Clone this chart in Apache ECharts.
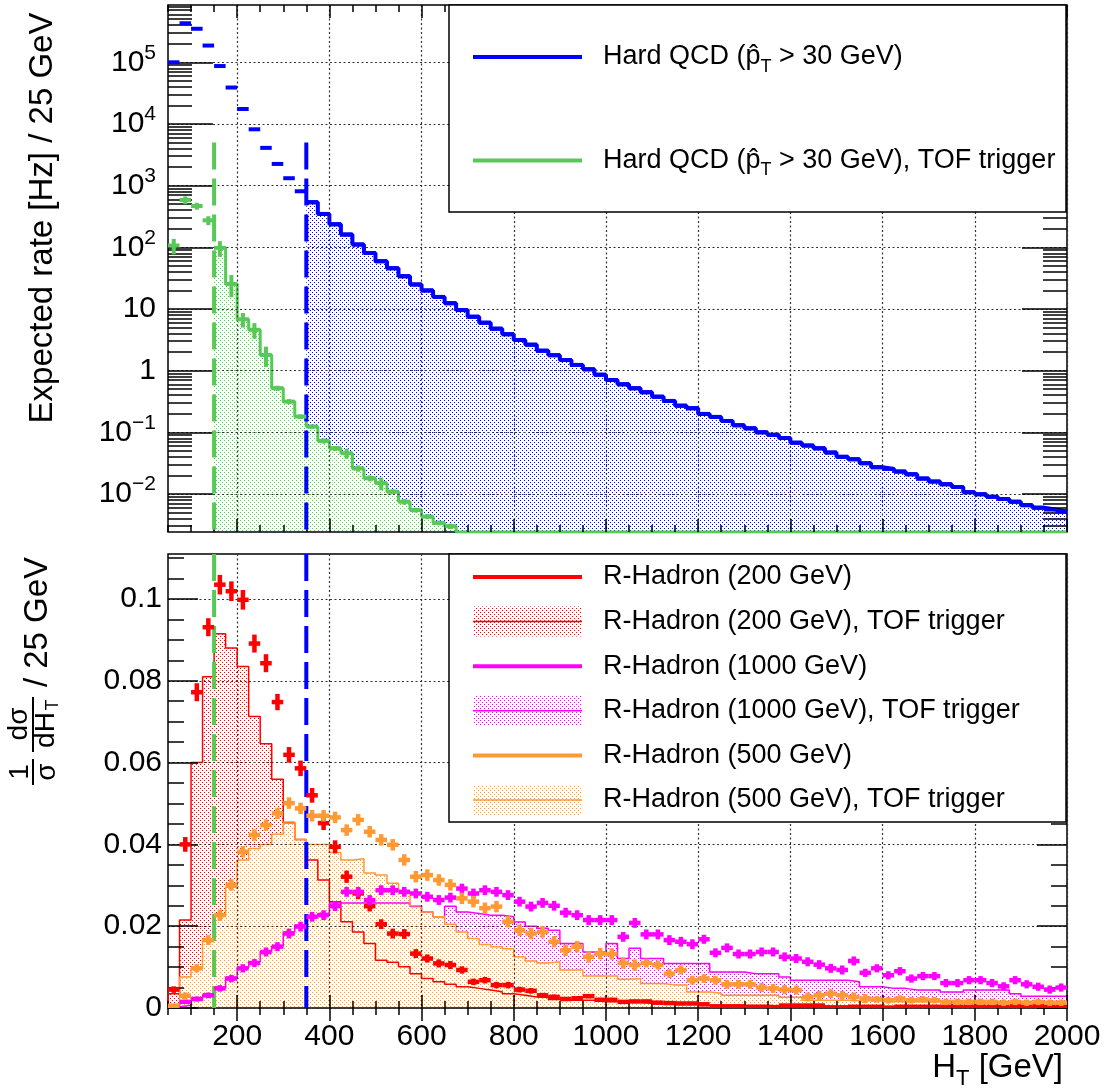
<!DOCTYPE html>
<html><head><meta charset="utf-8">
<script src="https://cdn.jsdelivr.net/npm/echarts@6/dist/echarts.min.js"></script>
<style>html,body{margin:0;padding:0;background:#fff}#c{width:1112px;height:1092px}</style>
</head><body><div id="c"></div><script>
// ---------------- DATA ----------------
const binEdges = [50,75,100,125,150,175,200,225,250,275,300,325,350,375,400,425,450,475,500,525,550,575,600,625,650,675,700,725,750,775,800,825,850,875,900,925,950,975,1000,1025,1050,1075,1100,1125,1150,1175,1200,1225,1250,1275,1300,1325,1350,1375,1400,1425,1450,1475,1500,1525,1550,1575,1600,1625,1650,1675,1700,1725,1750,1775,1800,1825,1850,1875,1900,1925,1950,1975,2000];

// Top panel: expected rate [Hz] per 25 GeV bin
const qcdRate = [1.0e5,4.3e5,3.5e5,1.87e5,8.7e4,3.9e4,1.75e4,8.2e3,4.1e3,2.25e3,
 1.32e3,811,538,348,236,161,111,81,59.5,45.8,
 34,25,20,15.7,12.4,9.6,7.5,6.0,4.8,3.9,
 3.15,2.64,2.11,1.78,1.49,1.24,1.05,0.86,0.706,0.60,
 0.518,0.447,0.379,0.323,0.271,0.246,0.199,0.178,0.153,0.130,
 0.116,0.100,0.091,0.081,0.068,0.061,0.055,0.047,0.040,0.0366,
 0.0316,0.0272,0.0255,0.0231,0.0209,0.0178,0.0159,0.0144,0.0130,0.0107,
 0.0099,0.0090,0.0083,0.0075,0.0066,0.0060,0.0056,0.0052];
const qcdTofRate = [107,586,468,274,98,25.5,6.8,4.6,1.8,0.52,
 0.315,0.18,0.124,0.0726,0.055,0.0458,0.026,0.018,0.015,0.0109,
 0.0075,0.0055,0.0043,0.0034,0.003,0,0,0,0,0,
 0,0,0,0,0,0,0,0,0,0, 0,0,0,0,0,0,0,0,0,0, 0,0,0,0,0,0,0,0,0,0,
 0,0,0,0,0,0,0,0,0,0, 0,0,0,0,0,0,0,0];
const qcdTofErr = [30,85,60,45,28,10,1.8,1.3,0.65,0.05,
 0.03,0.015,0.01,0.007,0.005,0.0085,0.003,0.002,0.0035,0.001,
 0.0008,0.0005,0.0004,0.0003,0.0003,0,0,0,0,0,
 0,0,0,0,0,0,0,0,0,0, 0,0,0,0,0,0,0,0,0,0, 0,0,0,0,0,0,0,0,0,0,
 0,0,0,0,0,0,0,0,0,0, 0,0,0,0,0,0,0,0];

// Bottom panel: normalised distributions
const rh200 = [0.0045,0.040,0.0772,0.0931,0.1035,0.1019,0.0998,0.0891,0.0843,0.0748,
 0.0619,0.0586,0.052,0.0452,0.0394,0.0321,0.028,0.0249,0.0205,0.0182,
 0.0181,0.0133,0.0121,0.0109,0.0105,0.0093,0.0064,0.0068,0.0056,0.0056,
 0.0045,0.0042,0.0031,0.0027,0.0022,0.0024,0.0029,0.0020,0.0020,0.0015,
 0.0016,0.0016,0.0013,0.0012,0.0011,0.0011,0.0009,0.0004,0.0004,0.0004,
 0.0002,0.0002,0.0002,0.0006,0.0006,0.0006,0.0006,0.0001,0.0001,0.0003,
 0.0003,0.0003,0.0001,0.0003,0.0003,0.0003,0.0003,0.0003,0.0003,0.0003,
 0.0003,0.0003,0.0002,0.0004,0.0004,0.0004,0.0004,0.0004];
const rh200Err = [0.0008,0.0018,0.0022,0.0022,0.0024,0.0024,0.0024,0.0022,0.0022,0.002,
 0.0019,0.0019,0.0018,0.0017,0.0016,0.0015,0.0014,0.0013,0.0012,0.0012,
 0.0012,0.0011,0.001,0.001,0.001,0.0009,0.0008,0.0008,0.0008,0.0008,
 0.0007,0.0007,0.0006,0.0006,0.0005,0.0005,0.0005,0.0005,0.0005,0.0004,
 0.0004,0.0004,0.0004,0.0004,0.0003,0.0003,0.0003,0.0002,0.0002,0.0002,
 0.0002,0.0002,0.0002,0.0002,0.0002,0.0002,0.0002,0.0002,0.0002,0.0002,
 0.0002,0.0002,0.0002,0.0002,0.0002,0.0002,0.0002,0.0002,0.0002,0.0002,
 0.0002,0.0002,0.0002,0.0002,0.0002,0.0002,0.0002,0.0002];
const rh200Tof = [0.0035,0.0215,0.060,0.081,0.0915,0.088,0.0835,0.0713,0.0646,0.0559,
 0.0453,0.0412,0.0362,0.0313,0.026,0.0211,0.0186,0.0158,0.0117,0.0112,
 0.0101,0.0084,0.0072,0.0064,0.0058,0.0052,0.0048,0.0044,0.0040,0.0035,
 0.0031,0.0027,0.0026,0.0021,0.0019,0.0019,0.0019,0.0015,0.0015,0.0015,
 0.0015,0.0011,0.0011,0.0011,0.0011,0.0011,0.0007,0.0007,0.0007,0.0007,
 0.0007,0.0007,0.0005,0.0005,0.0005,0.0005,0.0005,0.0005,0.0005,0.0005,
 0.0003,0.0003,0.0003,0.0003,0.0003,0.0003,0.0003,0.0003,0.0003,0.0003,
 0.0003,0.0003,0.0003,0.0003,0.0003,0.0003,0.0003,0.0003];
const rh1000 = [0.0005,0.0015,0.0022,0.0031,0.0048,0.0072,0.0097,0.011,0.0137,0.015,
 0.0182,0.0199,0.0223,0.0227,0.0249,0.0284,0.0284,0.0264,0.0288,0.0288,
 0.0284,0.028,0.0272,0.0264,0.027,0.0292,0.028,0.0288,0.0284,0.0276,
 0.026,0.0248,0.0257,0.025,0.0233,0.0227,0.0215,0.0215,0.0215,0.0174,
 0.0208,0.018,0.018,0.0166,0.0162,0.0156,0.0168,0.0135,0.0147,0.0132,
 0.0132,0.0137,0.0137,0.0125,0.0121,0.0113,0.0106,0.0097,0.0093,0.0115,
 0.0086,0.0097,0.008,0.009,0.0072,0.0078,0.0078,0.0061,0.0061,0.0068,
 0.0068,0.0061,0.0053,0.0068,0.0058,0.0052,0.0045,0.005];
const rh1000Err = [0.0003,0.0005,0.0006,0.0007,0.0008,0.0009,0.001,0.001,0.0011,0.0011,
 0.0012,0.0012,0.0012,0.0012,0.0012,0.0012,0.0012,0.0012,0.0012,0.0012,
 0.0012,0.0012,0.0012,0.0012,0.0012,0.0012,0.0012,0.0012,0.0012,0.0012,
 0.0012,0.0012,0.0012,0.0012,0.0012,0.0012,0.0012,0.0012,0.0012,0.0012,
 0.0012,0.0012,0.0012,0.0012,0.0012,0.0012,0.0011,0.0011,0.0011,0.0011,
 0.0011,0.0011,0.0011,0.0011,0.0011,0.0011,0.0011,0.0011,0.0011,0.0011,
 0.001,0.001,0.001,0.001,0.001,0.001,0.001,0.001,0.001,0.001,
 0.001,0.001,0.001,0.001,0.001,0.001,0.001,0.001];
const rh1000Tof = [0.0003,0.0007,0.0019,0.0031,0.0048,0.0075,0.0099,0.0113,0.0139,0.0151,
 0.0186,0.0203,0.0225,0.0231,0.0257,0.0257,0.0257,0.0257,0.0257,0.0257,
 0.0257,0.0248,0.0235,0.0223,0.0249,0.0235,0.0231,0.0227,0.0227,0.0223,
 0.021,0.020,0.0195,0.019,0.0158,0.0158,0.0137,0.0137,0.0158,0.0121,
 0.0146,0.0121,0.0121,0.0109,0.0109,0.0109,0.0109,0.0088,0.0088,0.0088,
 0.0084,0.0084,0.0084,0.0076,0.0068,0.0068,0.0068,0.0068,0.0068,0.0064,
 0.0052,0.0052,0.0048,0.0048,0.0044,0.0044,0.0044,0.0039,0.0039,0.0044,
 0.0044,0.0044,0.0044,0.0035,0.0029,0.0029,0.0029,0.0029];
const rh500 = [0.0005,0.003,0.0097,0.0166,0.0227,0.0301,0.0382,0.0423,0.0447,0.0476,
 0.0501,0.0488,0.047,0.047,0.0466,0.0435,0.046,0.0431,0.0411,0.0399,
 0.0362,0.0321,0.0325,0.0313,0.0301,0.0268,0.026,0.0244,0.0248,0.0211,
 0.019,0.0182,0.0186,0.0162,0.0141,0.015,0.0125,0.0133,0.0132,0.011,
 0.0105,0.011,0.0105,0.0084,0.0093,0.0068,0.0072,0.0068,0.0058,0.0058,
 0.0058,0.005,0.0048,0.0045,0.0044,0.0027,0.0031,0.0035,0.0031,0.0027,
 0.0023,0.0021,0.0019,0.0023,0.0019,0.0021,0.0019,0.0015,0.0015,0.0015,
 0.0015,0.0015,0.0013,0.0015,0.0013,0.0015,0.0013,0.0013];
const rh500Err = [0.0004,0.0008,0.001,0.0012,0.0014,0.0014,0.0014,0.0014,0.0014,0.0014,
 0.0014,0.0014,0.0014,0.0014,0.0014,0.0014,0.0014,0.0014,0.0014,0.0014,
 0.0014,0.0014,0.0014,0.0014,0.0014,0.0014,0.0014,0.0014,0.0014,0.0014,
 0.0014,0.0014,0.0014,0.0014,0.0014,0.0014,0.0014,0.0014,0.0014,0.0014,
 0.0014,0.0011,0.0011,0.0011,0.0011,0.0011,0.0011,0.0011,0.0011,0.0011,
 0.0011,0.0011,0.0011,0.0011,0.0011,0.0011,0.0011,0.0011,0.0011,0.0011,
 0.0011,0.0008,0.0008,0.0008,0.0008,0.0008,0.0008,0.0008,0.0008,0.0008,
 0.0008,0.0008,0.0008,0.0008,0.0008,0.0008,0.0008,0.0008];
const rh500Tof = [0.0005,0.0076,0.0097,0.0166,0.0225,0.0295,0.0362,0.0390,0.0400,0.0425,
 0.0455,0.0412,0.0400,0.0400,0.0380,0.0362,0.0365,0.0330,0.0325,0.0305,
 0.0285,0.0250,0.0235,0.0223,0.0205,0.0186,0.0170,0.0155,0.0150,0.0145,
 0.0125,0.0115,0.0110,0.0113,0.0093,0.0093,0.0078,0.0078,0.0078,0.0070,
 0.0072,0.0060,0.0060,0.0056,0.0056,0.0039,0.0039,0.0036,0.0031,0.0031,
 0.0031,0.0031,0.0031,0.0026,0.0026,0.0019,0.0019,0.0019,0.0019,0.0018,
 0.0018,0.0018,0.0015,0.0015,0.0015,0.0015,0.0015,0.0015,0.0013,0.0013,
 0.0013,0.0013,0.0013,0.0013,0.0013,0.0013,0.0013,0.0013];

// cuts (dashed lines)
const cutTof = 150, cutHT = 350, cutLineTopValue = 5000;

// ticks
const xMajorTicks = [200,400,600,800,1000,1200,1400,1600,1800,2000];
const xTickLabels = ['200','400','600','800','1000','1200','1400','1600','1800','2000'];
const topMajorTicks = [0.01,0.1,1,10,100,1000,10000,100000];
const topMinorMantissa = [2,3,4,5,6,7,8,9];
const botMajorTicks = [0,0.02,0.04,0.06,0.08,0.1];
const botTickLabels = ['0','0.02','0.04','0.06','0.08','0.1'];
const botMinorTicks = [0,0.005,0.01,0.015,0.02,0.025,0.03,0.035,0.04,0.045,0.05,0.055,0.06,0.065,0.07,0.075,0.08,0.085,0.09,0.095,0.1,0.105,0.11];

// ---------------- STYLE / LAYOUT ----------------
const FONT = "'Liberation Sans', Arial, Helvetica, sans-serif";
const BLUE = '#0000ff', GREEN = '#58c858', RED = '#ff0000', MAG = '#ff00ff', ORA = '#ff9933';
const X_MIN = 50, X_MAX = 2000;
const TOP_MIN = 0.00242, TOP_MAX = 8.5e5;
const BOT_MIN = 0, BOT_MAX = 0.111;

const xMinorTicks = binEdges.filter(v => v % 50 === 0);
const topMinorTicks = [];
[-3,-2,-1,0,1,2,3,4,5].forEach(e => topMinorMantissa.forEach(m => {
  const v = m * Math.pow(10, e);
  if (v > TOP_MIN && v < TOP_MAX) topMinorTicks.push(v);
}));

function dots(color) {
  const c = document.createElement('canvas'); c.width = 4; c.height = 4;
  const g = c.getContext('2d'); g.fillStyle = color;
  g.fillRect(0, 0, 1, 1); g.fillRect(2, 2, 1, 1);
  return { image: c, repeat: 'repeat' };
}

const gridLine = { show: true, lineStyle: { color: '#333', width: 1.2, type: [2, 2.5] } };
const tickStyle = { color: '#000', width: 1.5 };

function xAx(grid, pos, ticks, len, extra) {
  return Object.assign({
    type: 'value', gridIndex: grid, position: pos, min: X_MIN, max: X_MAX, z: 3,
    axisLine: { show: false },
    axisTick: { show: true, inside: true, length: len, customValues: ticks, lineStyle: tickStyle },
    axisLabel: { show: false },
    splitLine: { show: false }
  }, extra || {});
}
function yAx(grid, pos, ticks, len, type, min, max, extra) {
  return Object.assign({
    type: type, gridIndex: grid, position: pos, min: min, max: max, z: 3,
    axisLine: { show: false },
    axisTick: { show: true, inside: true, length: len, customValues: ticks, lineStyle: tickStyle },
    axisLabel: { show: false },
    splitLine: { show: false }
  }, type === 'log' ? { logBase: 10 } : {}, extra || {});
}

function powLabel(v) {
  const e = Math.round(Math.log10(v));
  if (e === 0) return '{b|1}';
  if (e === 1) return '{b|10}';
  return '{b|10}{e|' + (e < 0 ? '\u2212' + (-e) : String(e)) + '}';
}
function lookup(ticks, labels) {
  return v => { for (let i = 0; i < ticks.length; i++) if (Math.abs(ticks[i] - v) < 1e-9) return labels[i]; return ''; };
}

const xAxes = [
  xAx(0, 'bottom', xMajorTicks, 13, { splitLine: gridLine }),
  xAx(0, 'bottom', xMinorTicks, 7),
  xAx(0, 'top', xMajorTicks, 13),
  xAx(0, 'top', xMinorTicks, 7),
  xAx(1, 'bottom', xMajorTicks, 13, { splitLine: gridLine,
    axisLabel: { show: true, customValues: xMajorTicks, formatter: lookup(xMajorTicks, xTickLabels),
      margin: 14, fontSize: 30, color: '#000', fontFamily: FONT } }),
  xAx(1, 'bottom', xMinorTicks, 7),
  xAx(1, 'top', xMajorTicks, 13),
  xAx(1, 'top', xMinorTicks, 7)
];
const yAxes = [
  yAx(0, 'left', topMajorTicks, 45, 'log', TOP_MIN, TOP_MAX, { splitLine: gridLine,
    axisLabel: { show: true, customValues: topMajorTicks, formatter: powLabel, margin: 12, color: '#000',
      fontSize: 30, fontFamily: FONT,
      rich: { b: { fontSize: 30, lineHeight: 40, fontFamily: FONT, color: '#000' },
              e: { fontSize: 21, lineHeight: 21, padding: [0, 0, 19, 0], fontFamily: FONT, color: '#000' } } } }),
  yAx(0, 'left', topMinorTicks, 24, 'log', TOP_MIN, TOP_MAX),
  yAx(0, 'right', topMajorTicks, 45, 'log', TOP_MIN, TOP_MAX),
  yAx(0, 'right', topMinorTicks, 24, 'log', TOP_MIN, TOP_MAX),
  yAx(1, 'left', botMajorTicks, 30, 'value', BOT_MIN, BOT_MAX, { splitLine: gridLine,
    axisLabel: { show: true, customValues: botMajorTicks, formatter: lookup(botMajorTicks, botTickLabels),
      margin: 6, fontSize: 30, color: '#000', fontFamily: FONT } }),
  yAx(1, 'left', botMinorTicks, 16, 'value', BOT_MIN, BOT_MAX),
  yAx(1, 'right', botMajorTicks, 30, 'value', BOT_MIN, BOT_MAX),
  yAx(1, 'right', botMinorTicks, 16, 'value', BOT_MIN, BOT_MAX)
];

// ---------------- SERIES BUILDERS ----------------
// withEdge: draw the vertical rise at the first bin edge
function histSeries(xi, yi, vals, k0, color, lw, fill, floor, z, withEdge) {
  const k1 = vals.length - 1;
  const d = withEdge ? [[binEdges[k0], floor]] : [];
  for (let k = k0; k <= k1; k++) d.push([binEdges[k], Math.max(vals[k], floor)]);
  d.push([binEdges[k1 + 1], Math.max(vals[k1], floor)]);
  return { type: 'line', xAxisIndex: xi, yAxisIndex: yi, data: d, step: 'end', symbol: 'none', showSymbol: false,
    z: z, silent: true, clip: true, lineStyle: { color: color, width: lw },
    areaStyle: { color: fill, origin: 'start', opacity: 1 } };
}
function crossSeries(xi, yi, vals, errs, color, lw, floor, ceil, z) {
  const data = [];
  for (let k = 0; k < vals.length; k++) if (vals[k] > 0) data.push([binEdges[k], binEdges[k + 1], vals[k], errs ? errs[k] : 0]);
  return { type: 'custom', xAxisIndex: xi, yAxisIndex: yi, z: z, clip: true, silent: true,
    encode: { x: [0, 1], y: 2 }, data: data,
    renderItem: function (params, api) {
      const lo = api.value(0), hi = api.value(1), v = api.value(2), e = api.value(3);
      const a = api.coord([lo, v]), b = api.coord([hi, v]);
      const ch = [{ type: 'line', shape: { x1: a[0], y1: a[1], x2: b[0], y2: b[1] }, style: { stroke: color, lineWidth: lw } }];
      if (e > 0) {
        const mid = (lo + hi) / 2;
        const t = api.coord([mid, Math.min(v + e, ceil)]);
        const u = api.coord([mid, Math.max(v - e, floor)]);
        ch.push({ type: 'line', shape: { x1: t[0], y1: t[1], x2: u[0], y2: u[1] }, style: { stroke: color, lineWidth: lw } });
      }
      return { type: 'group', children: ch };
    } };
}
function dashSeries(xi, yi, lines, colors, z) {
  return { type: 'custom', xAxisIndex: xi, yAxisIndex: yi, z: z, clip: true, silent: true,
    encode: { x: 0, y: [1, 2] }, data: lines,
    renderItem: function (params, api) {
      const x = api.value(0);
      const t = api.coord([x, api.value(1)]), u = api.coord([x, api.value(2)]);
      return { type: 'line', shape: { x1: t[0], y1: t[1], x2: u[0], y2: u[1] },
        style: { stroke: colors[api.value(3)], lineWidth: 4, lineDash: [27, 9] } };
    } };
}
const kTof = binEdges.indexOf(cutTof), kHT = binEdges.indexOf(cutHT);

const series = [
  histSeries(0, 0, qcdRate, kHT, BLUE, 4, dots(BLUE), TOP_MIN, 2, false),
  histSeries(0, 0, qcdTofRate, kTof, GREEN, 3, dots(GREEN), TOP_MIN, 2, false),
  dashSeries(0, 0, [[cutTof, cutLineTopValue, TOP_MIN, 0], [cutHT, cutLineTopValue, TOP_MIN, 1]], [GREEN, BLUE], 4),
  crossSeries(0, 0, qcdRate, null, BLUE, 4, TOP_MIN, TOP_MAX, 5),
  crossSeries(0, 0, qcdTofRate, qcdTofErr, GREEN, 4, TOP_MIN, TOP_MAX, 6),

  histSeries(4, 4, rh200Tof, 0, RED, 1.5, dots(RED), 0, 2, true),
  histSeries(4, 4, rh1000Tof, 0, MAG, 1.5, dots(MAG), 0, 2, true),
  histSeries(4, 4, rh500Tof, 0, ORA, 1.5, dots(ORA), 0, 2, true),
  dashSeries(4, 4, [[cutTof, BOT_MAX, BOT_MIN, 0], [cutHT, BOT_MAX, BOT_MIN, 1]], [GREEN, BLUE], 4),
  crossSeries(4, 4, rh200, rh200Err, RED, 4.5, BOT_MIN, BOT_MAX, 5),
  crossSeries(4, 4, rh1000, rh1000Err, MAG, 4.5, BOT_MIN, BOT_MAX, 5),
  crossSeries(4, 4, rh500, rh500Err, ORA, 4.5, BOT_MIN, BOT_MAX, 5)
];

// ---------------- TEXT / LEGENDS ----------------
const richLeg = {
  a: { fontSize: 27, lineHeight: 38, fontFamily: FONT, fill: '#000' },
  s: { fontSize: 18, lineHeight: 18, padding: [20, 0, 0, 0], fontFamily: FONT, fill: '#000' }
};
function txt(x, y, text, size, align, rot, rich) {
  const st = { text: text, x: 0, y: 0, fill: '#000', font: size + 'px ' + FONT,
    align: align, textAlign: align, verticalAlign: 'middle', textVerticalAlign: 'middle' };
  if (rich) st.rich = rich;
  return { type: 'text', x: x, y: y, rotation: rot || 0, z: 101, silent: true, style: st };
}
function lineG(x1, y1, x2, y2, color, w) {
  return { type: 'line', z: 101, silent: true, shape: { x1: x1, y1: y1, x2: x2, y2: y2 }, style: { stroke: color, lineWidth: w } };
}
const topLegend = [
  { text: '{a|Hard QCD (p\u0302}{s|T}{a| > 30 GeV)}', color: BLUE },
  { text: '{a|Hard QCD (p\u0302}{s|T}{a| > 30 GeV), TOF trigger}', color: GREEN }
];
const botLegend = [
  { text: 'R-Hadron (200 GeV)', color: RED, fill: false },
  { text: 'R-Hadron (200 GeV), TOF trigger', color: RED, fill: true },
  { text: 'R-Hadron (1000 GeV)', color: MAG, fill: false },
  { text: 'R-Hadron (1000 GeV), TOF trigger', color: MAG, fill: true },
  { text: 'R-Hadron (500 GeV)', color: ORA, fill: false },
  { text: 'R-Hadron (500 GeV), TOF trigger', color: ORA, fill: true }
];
const graphics = [];
graphics.push({ type: 'rect', z: 100, silent: true, shape: { x: 449, y: 5, width: 617, height: 207 },
  style: { fill: '#fff', stroke: '#000', lineWidth: 1.5 } });
topLegend.forEach((it, i) => {
  const cy = 57 + i * 103.5;
  graphics.push(lineG(473, cy, 582, cy, it.color, 4));
  graphics.push(txt(603, cy, it.text, 27, 'left', 0, richLeg));
});
graphics.push({ type: 'rect', z: 100, silent: true, shape: { x: 449, y: 554, width: 617, height: 268 },
  style: { fill: '#fff', stroke: '#000', lineWidth: 1.5 } });
botLegend.forEach((it, i) => {
  const cy = 577 + i * 44.6;
  if (it.fill) {
    graphics.push({ type: 'rect', z: 101, silent: true, shape: { x: 473, y: cy - 15, width: 109, height: 30 },
      style: { fill: dots(it.color), stroke: null } });
    graphics.push(lineG(473, cy, 582, cy, it.color, 1.5));
  } else {
    graphics.push(lineG(473, cy, 582, cy, it.color, 4));
  }
  graphics.push(txt(603, cy, it.text, 27, 'left', 0));
});
// axis titles
const R90 = Math.PI / 2;
graphics.push(txt(43, 218, 'Expected rate [Hz] / 25 GeV', 33, 'center', R90));
graphics.push(txt(20, 772, '1', 28, 'center', R90));
graphics.push(lineG(33, 759, 33, 785, '#000', 2));
graphics.push(txt(47, 772, '\u03c3', 28, 'center', R90));
graphics.push(txt(19, 724, 'd\u03c3', 28, 'center', R90));
graphics.push(lineG(33, 697, 33, 752, '#000', 2));
graphics.push(txt(46, 730, 'dH', 28, 'center', R90));
graphics.push(txt(53, 705, 'T', 18, 'center', R90));
graphics.push(txt(38, 622, '/ 25 GeV', 33, 'center', R90));
graphics.push(txt(1063, 1068, '{a|H}{s|T}{a| [GeV]}', 33, 'right', 0, {
  a: { fontSize: 33, lineHeight: 44, fontFamily: FONT, fill: '#000' },
  s: { fontSize: 22, lineHeight: 22, padding: [22, 0, 0, 0], fontFamily: FONT, fill: '#000' } }));

const chart = echarts.init(document.getElementById('c'), null, { renderer: 'canvas' });
chart.setOption({
  animation: false,
  backgroundColor: '#fff',
  textStyle: { fontFamily: FONT },
  grid: [
    { left: 168, right: 45, top: 5, height: 527, show: true, borderColor: '#000', borderWidth: 1.5, backgroundColor: 'transparent' },
    { left: 168, right: 45, top: 554, height: 454, show: true, borderColor: '#000', borderWidth: 1.5, backgroundColor: 'transparent' }
  ],
  xAxis: xAxes,
  yAxis: yAxes,
  series: series,
  graphic: { elements: graphics }
});
</script></body></html>
